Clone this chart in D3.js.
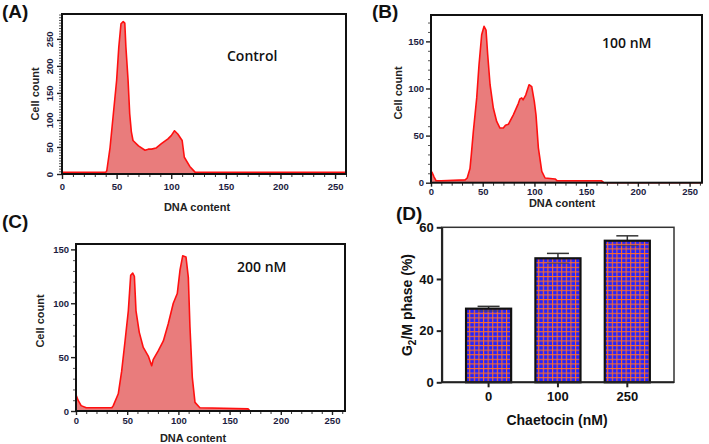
<!DOCTYPE html>
<html>
<head>
<meta charset="utf-8">
<script src="https://cdn.jsdelivr.net/npm/d3@7"></script>
<style>
html,body{margin:0;padding:0;background:#fff;}
svg{display:block;}
text{font-family:"Liberation Sans",Arial,sans-serif;}
</style>
</head>
<body>
<svg id="chart" width="709" height="444"></svg>
<script>
// ---------- DATA ----------
const dnaA   = [0,40,41,44,47,50,52,54,56,57.5,58.5,60.5,62,63.5,65,70,76,79,82,86,91,97,100,103,106,110,112,117,122,260];
const countA = [3,3,6,49,111,173,235,278,282,279,235,173,111,78,62,52,44,46,46,48,56,65,71,80,74,62,31,14,3,3];

const dnaB   = [0,1,3,5,10,33,35,37.7,39,40.9,44.2,46.4,49,51.3,53.2,54.8,57.1,60.3,63.5,66.7,69.9,72,74.8,79.6,84.4,86,87.7,89,91.6,94.8,97.4,99.9,101.5,103.8,107.1,110.3,120,122,165,167,262];
const countB = [12,11,6,2,2,3,5,15,30,54,90,125,157,166,162,136,104,79,65,58,58,61,62,72,84,89,90,88,93,104,102,86,72,37,12,5,4,2,2,0,0];

const dnaC   = [0,2,5,10,35,36.4,41.3,44.6,47.9,51.1,53.4,55.4,57,58.6,61.8,65.7,70.6,73.9,75.5,80.4,85.3,90.1,95,98.9,101.6,104.2,107.4,109.7,111.3,113.6,116.2,121,168,170,263];
const countC = [15,10,5,3,3,5,16,37,65,93,126,128,125,93,73,59,51,42,48,56,65,81,100,109,131,144,143,124,78,31,8,3,2,0,0];

const xTicksHist = [0,50,100,150,200,250];
const yTicksA = [0,50,100,150,200,250];
const yTicksB = [0,50,100,150];
const yTicksC = [0,50,100,150];

const doses   = ["0","100","250"];
const g2m     = [28.5,48.0,54.8];
const g2mErr  = [0.9,1.9,1.9];
const yTicksD = [0,20,40,60];

// ---------- DRAW ----------
const svg = d3.select("#chart");
const defs = svg.append("defs");

function histPanel(o){
  const g = svg.append("g");
  const x = d3.scaleLinear().domain([0,o.xmax]).range([o.left,o.right]);
  const y = d3.scaleLinear().domain([0,o.ymax]).range([o.bottom,o.top]);
  const pts = o.dna.map((d,i)=>[d,o.count[i]]);
  g.append("path").datum(pts)
    .attr("d", d3.area().x(d=>x(d[0])).y0(y(0)).y1(d=>y(d[1])))
    .attr("fill","#e97c7c");
  g.append("path").datum(pts)
    .attr("d", d3.line().x(d=>x(d[0])).y(d=>y(d[1])))
    .attr("fill","none").attr("stroke","#ff1010").attr("stroke-width",1.6)
    .attr("stroke-linejoin","round");
  // minor ticks
  const xMinor = d3.range(0,o.xmax+0.1,10).filter(v=>v%50!==0);
  const yMinor = d3.range(0,o.ymax+0.1,o.yMinorStep).filter(v=>v%50!==0);
  g.append("g").attr("transform",`translate(0,${o.bottom})`)
    .call(d3.axisBottom(x).tickValues(xMinor).tickSize(3).tickFormat(""))
    .call(a=>a.select(".domain").remove())
    .call(a=>a.selectAll("line").attr("stroke","#333"));
  g.append("g").attr("transform",`translate(${o.left},0)`)
    .call(d3.axisLeft(y).tickValues(yMinor).tickSize(3).tickFormat(""))
    .call(a=>a.select(".domain").remove())
    .call(a=>a.selectAll("line").attr("stroke","#555"));
  // major axes
  const xa = g.append("g").attr("transform",`translate(0,${o.bottom})`)
    .call(d3.axisBottom(x).tickValues(o.xTicks).tickSize(o.xTickSize).tickPadding(o.xPad).tickSizeOuter(0));
  xa.select(".domain").remove();
  xa.selectAll("line").attr("stroke","#222").attr("stroke-width",1.4);
  xa.selectAll("text").attr("font-size",9.5).attr("font-weight","bold").attr("fill","#1c1c40");
  const ya = g.append("g").attr("transform",`translate(${o.left},0)`)
    .call(d3.axisLeft(y).tickValues(o.yTicks).tickSize(5).tickPadding(2).tickSizeOuter(0));
  ya.select(".domain").remove();
  ya.selectAll("line").attr("stroke","#222").attr("stroke-width",1.4);
  ya.selectAll("text").attr("font-size",9.5).attr("font-weight","bold").attr("fill","#1c1c40");
  if(o.rotateY){
    ya.selectAll("text").attr("text-anchor","middle").attr("x",0).attr("y",0).attr("dy","0.35em")
      .attr("transform","translate(-12,0) rotate(-90)");
  }
  // frame
  g.append("rect").attr("x",o.left).attr("y",o.top)
    .attr("width",o.right-o.left).attr("height",o.bottom-o.top)
    .attr("fill","none").attr("stroke","#111").attr("stroke-width",2);
  // labels
  g.append("text").attr("x",o.xlab[0]).attr("y",o.xlab[1]).attr("text-anchor","middle")
    .attr("font-size",11).attr("font-weight","bold").attr("fill","#222").text("DNA content");
  g.append("text").attr("transform",`translate(${o.ylab[0]},${o.ylab[1]}) rotate(-90)`)
    .attr("text-anchor","middle").attr("font-size",11).attr("font-weight","bold").attr("fill","#222").text("Cell count");
  g.append("text").attr("x",o.note[0]).attr("y",o.note[1]).attr("font-size",14)
    .attr("font-weight",600).attr("fill","#111").style("font-family","'Open Sans',sans-serif").text(o.noteText);
  g.append("text").attr("x",o.tag[0]).attr("y",o.tag[1]).attr("font-size",19)
    .attr("font-weight","bold").attr("fill","#111").text(o.tagText);
}

histPanel({left:62,top:14,right:346,bottom:174,xmax:260,ymax:296,dna:dnaA,count:countA,
  xTicks:xTicksHist,yTicks:yTicksA,yMinorStep:5,rotateY:true,xTickSize:5,xPad:4,
  xlab:[197,211],ylab:[39,94],note:[227,61],noteText:"Control",tag:[2,18],tagText:"(A)"});
histPanel({left:431,top:15,right:702,bottom:182.7,xmax:262,ymax:178,dna:dnaB,count:countB,
  xTicksHist:null,xTicks:xTicksHist,yTicks:yTicksB,yMinorStep:10,rotateY:false,xTickSize:4,xPad:1.5,
  xlab:[562,207],ylab:[402,93],note:[602,48],noteText:"100 nM",tag:[372,18],tagText:"(B)"});
histPanel({left:76,top:244,right:345,bottom:411,xmax:262.7,ymax:155,dna:dnaC,count:countC,
  xTicks:xTicksHist,yTicks:yTicksC,yMinorStep:10,rotateY:false,xTickSize:4,xPad:2,
  xlab:[193,442],ylab:[44,321],note:[237,272],noteText:"200 nM",tag:[2,228],tagText:"(C)"});

// ---------- Panel D ----------
const pat = defs.append("pattern").attr("id","grid").attr("patternUnits","userSpaceOnUse")
  .attr("width",4.6).attr("height",4.6);
pat.append("rect").attr("width",4.6).attr("height",4.6).attr("fill","#2424ff");
pat.append("rect").attr("x",0).attr("y",0).attr("width",1.1).attr("height",4.6).attr("fill","#ff6a2a");
pat.append("rect").attr("x",0).attr("y",0).attr("width",4.6).attr("height",1.1).attr("fill","#ff6a2a");

const dL=441.7, dR=674, dT=227.3, dB=382.3;
const xD = d3.scaleBand().domain(doses).range([453.9,662]).paddingInner(0.35).paddingOuter(0.175);
const yD = d3.scaleLinear().domain([0,60]).range([dB,dT]);
const gD = svg.append("g");
gD.append("rect").attr("x",dL).attr("y",dT).attr("width",dR-dL).attr("height",dB-dT)
  .attr("fill","none").attr("stroke","#333").attr("stroke-width",1.5);
// error bars (upper whisker + caps)
doses.forEach((d,i)=>{
  const cx = xD(d)+xD.bandwidth()/2;
  const cw = 11;
  gD.append("line").attr("x1",cx).attr("x2",cx).attr("y1",yD(g2m[i])).attr("y2",yD(g2m[i]+g2mErr[i]))
    .attr("stroke","#333").attr("stroke-width",1.5);
  gD.append("line").attr("x1",cx-cw).attr("x2",cx+cw).attr("y1",yD(g2m[i]+g2mErr[i])).attr("y2",yD(g2m[i]+g2mErr[i]))
    .attr("stroke","#333").attr("stroke-width",1.5);
});
gD.selectAll("rect.bar").data(doses).join("rect").attr("class","bar")
  .attr("x",d=>xD(d)).attr("width",xD.bandwidth())
  .attr("y",(d,i)=>yD(g2m[i])).attr("height",(d,i)=>yD(0)-yD(g2m[i]))
  .attr("fill","url(#grid)").attr("stroke","#111").attr("stroke-width",2.2);
doses.forEach((d,i)=>{
  const cx = xD(d)+xD.bandwidth()/2;
  gD.append("line").attr("x1",cx-11).attr("x2",cx+11).attr("y1",yD(g2m[i]-g2mErr[i])).attr("y2",yD(g2m[i]-g2mErr[i]))
    .attr("stroke","#444").attr("stroke-width",1.2).attr("opacity",0.7);
});
const yaD = gD.append("g").attr("transform",`translate(${dL},0)`)
  .call(d3.axisLeft(yD).tickValues(yTicksD).tickSize(5).tickPadding(3).tickSizeOuter(0));
yaD.select(".domain").attr("stroke","#222").attr("stroke-width",2);
yaD.selectAll("line").attr("stroke","#222").attr("stroke-width",2);
yaD.selectAll("text").attr("font-size",13).attr("font-weight","bold").attr("fill","#111");
const xaD = gD.append("g").attr("transform",`translate(0,${dB})`)
  .call(d3.axisBottom(xD).tickSize(5).tickPadding(4).tickSizeOuter(0));
xaD.select(".domain").remove();
gD.append("line").attr("x1",dL).attr("x2",dR).attr("y1",dB).attr("y2",dB).attr("stroke","#222").attr("stroke-width",2);
xaD.selectAll("line").attr("stroke","#222").attr("stroke-width",2);
xaD.selectAll("text").attr("font-size",13).attr("font-weight","bold").attr("fill","#111");
gD.append("text").attr("x",557).attr("y",425).attr("text-anchor","middle")
  .attr("font-size",14).attr("font-weight","bold").attr("fill","#111").text("Chaetocin (nM)");
const yl = gD.append("text").attr("transform","translate(412,305) rotate(-90)")
  .attr("text-anchor","middle").attr("font-size",14).attr("font-weight","bold").attr("fill","#111");
yl.append("tspan").text("G");
yl.append("tspan").attr("font-size",10).attr("dy",4).text("2");
yl.append("tspan").attr("dy",-4).text("/M phase (%)");
gD.append("text").attr("x",396).attr("y",220).attr("font-size",19)
  .attr("font-weight","bold").attr("fill","#111").text("(D)");
</script>
</body>
</html>
